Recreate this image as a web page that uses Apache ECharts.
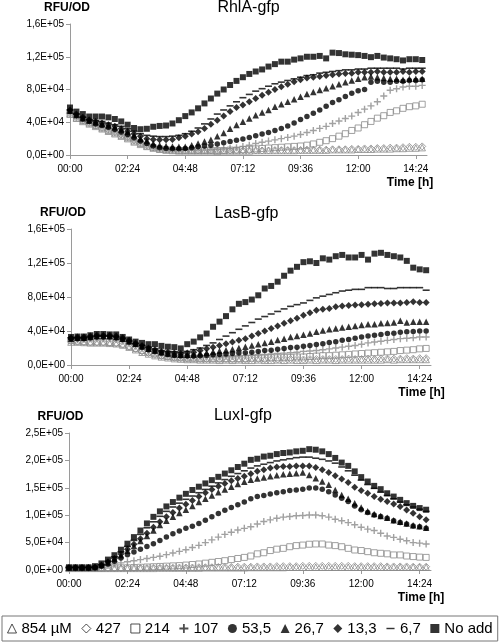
<!DOCTYPE html>
<html><head><meta charset="utf-8">
<script src="https://cdn.jsdelivr.net/npm/echarts@6/dist/echarts.min.js"></script>
<style>html,body{margin:0;padding:0;background:#fff}#c{width:500px;height:643px}</style>
</head><body><div id="c"></div>
<script>
// ---------------- DATA ----------------
const timesMin = [0,16,32,48,64,80,96,112,128,144,160,176,192,208,224,240,256,272,288,304,320,336,352,368,384,400,416,432,448,464,480,496,512,528,544,560,576,592,608,624,640,656,672,688,704,720,736,752,768,784,800,816,832,848,864,880];
const xTickMinutes = [0,144,288,432,576,720,864];
const seriesNames = ['854 µM','427','214','107','53,5','26,7','13,3','6,7','No add'];
const panelTitles = ['RhlA-gfp','LasB-gfp','LuxI-gfp'];
const yAxisTitle = 'RFU/OD';
const xAxisTitle = 'Time [h]';
// y ticks (values in thousands of RFU/OD)
const yTicksRhlA = [0,40,80,120,160];
const yTicksLasB = [0,40,80,120,160];
const yTicksLuxI = [0,50,100,150,200,250];

// RhlA-gfp (thousands)
const rhlA_854 = [50,45,41,38,35,32,29,26,23,20,16,13,10.5,8.5,7,6,5.5,5,5,5,5,5,5,4.5,5,5,5,5,5,5.5,5.5,5.5,5.5,5.5,5.5,5.5,6,6,6,6,6,6.5,6.5,6.5,6.5,7,7,7,7.5,7.5,7.5,8,8,8.5,8.5,9];
const rhlA_427 = [51,46,42,39,36,33,31,28,25,22,18,15,12,9.5,8,7,6.5,6,5.5,5.5,5.5,5.5,5.5,5.5,5.5,5.5,5.5,5.5,5.5,5.5,5.5,5.5,6,6,6,6,6,6.5,6.5,6.5,6.5,7,7,7,7.5,7.5,8,8,8.5,8.5,9,9,9.5,10,10,10.5];
const rhlA_214 = [50,45,42,39,36,33,30,27,24,21,17,14,11,9,7.5,6.5,6,5.5,5.5,5.5,5.5,5.5,5.5,5.5,5.5,6,6,6.5,7,7.5,8,8.5,9,9.5,10,10.5,11,12,13.5,15.5,17.5,20,23,26,30,33,37,41,45,48,52,54,57,59,60,62];
const rhlA_107 = [52,47,43,40,37,34,31,28,25,22,18,15,12,9.5,8,7,6.5,6,6,6,6,6,6.5,7,7.5,8,9,10.5,12,14,15.5,17,18.5,20,21.5,23,25,27.5,30,32.5,35,38.5,41.5,44.5,47.5,52,56,60,65,72,79,81,83,84,84,85];
const rhlA_535 = [53,48,44,41,38,36,34,31,28,25,21,17,14,11,9,8,7.5,7.5,8,9,10,11,12,13.5,15,16.5,18,19.5,21.5,23.5,25.5,27.5,30,32.5,35.5,39,43.5,47,51,55,59.5,64,67.5,71.5,75.5,78.5,80,89,90,89,89,90,90,91,91,92];
const rhlA_267 = [54,49,45,42,40,38,36,34,31,28,24,20,17,14,12,11,10.5,10,10,12,14,16.5,18.5,23,27,32,36.5,40.5,44.5,48.5,52,55,59,62,65,68,71,74.5,77,79.5,81.5,84,86.5,89,91,93,95,96,95,94,93,93,92,93,93,93];
const rhlA_133 = [55,50,46,43,41,39,37,35,32,29,26,23,20,19,18.5,18.5,19,21,23,25.5,28.5,32.5,37.5,42.5,47.5,53,58,61,65,69,73,76.5,80,83.5,86.5,89.5,92,94,95,96,97,98,99,99.5,100,101,101,101,102,101,101,101,102,101,102,102];
const rhlA_67  = [55,50,46,43,42,41,39,37,35,32,29,26,24,23,22.5,22.5,23,24,26,29,33,38,44,50,55,60,65,70,74,78,81,84,87,89,91,93,95,97,98,100,101,102,103,104,104,105,105,106,106,106,106,106,105,106,106,106];
const rhlA_no  = [58,53,50,47,47,47,46,44,41,37,33,31.5,32,34.5,35.5,36,38.5,42.5,47.5,52,57,63,69,75,80,85.5,90.5,95,99,102,104.5,108,111,114,114,116.5,118,120,120,121,118,125,124.5,123,122.5,122,121,119.5,121,119,118,117,115.5,117,117,116];

// LasB-gfp (thousands)
const lasB_854 = [27,27,26.5,26,26,26,25.5,25,23.5,21,18,15,13,11,9.5,8.5,7.5,7,6.5,6.5,6,6,6,5.5,6,5.5,6,5.5,5.5,6,5.5,5.5,6,5.5,6,5.5,5.5,6,5.5,6,6,5.5,6,6,6,6,6,6,6,6.5,6,6.5,6.5,6.5,6.5,6.5];
const lasB_427 = [28,27.5,27,26.5,26.5,26.5,26,25.5,24,21.5,19,16,14,12,10.5,9.5,8.5,8,7.5,7.5,7,7,7,6.5,7,6.5,7,6.5,7,7,6.5,7,6.5,7,7,7,6.5,7,7,7,7,7,7,7.5,7,7,7.5,7,7.5,7.5,7.5,7.5,8,7.5,8,8];
const lasB_214 = [29,28,27.5,27,27,27,26.5,26,24.5,22,19.5,17,15,13,11,10,9,8.5,8,8,7.5,7.5,7.5,7.5,7.5,7.5,7.5,7.5,8,8,8,8.5,8.5,9,9,9.5,9.5,10,10.5,11,11,11.5,12,12.5,13,13.5,14,14.5,15,15.5,16,17,17.5,18,19,19.5];
const lasB_107 = [30,30,30,31,31,31,31,30,28,25,22,19,16,14,12,11,10,9.5,9,9,9,9,9.5,9.5,10,10,10.5,11,11.5,12,12.5,13,13.5,14,14.5,15,16,16.5,17,18,19,20,21,22,23,24.5,26,27,28,29,30,31,31.5,32,33,33];
const lasB_535 = [31,31,31,32,33,33,33,32,30,27,24,21,18,16,14,12.5,11.5,11,10.5,10.5,11,11.5,12,12.5,13,13.5,14,14.5,15,16,17,17.5,18.5,19.5,20.5,21,22,23,24,25,26.5,27.5,29,30,31.5,33,34,35,36,37,37.5,38.5,39,39.5,40,40];
const lasB_267 = [31,32,32,33,34,34,34,33,31,28,25,22,19,17,15,13.5,12.5,12,12,12.5,13.5,14.5,15.5,16.5,17.5,18.5,20,21.5,23,24.5,26,27.5,29.5,31,33,34,35.5,37,39,40.5,42,43,44,45,46,47,48,48,49,49.5,50,52,50,51,51,51];
const lasB_133 = [32,33,33,34,35,35,35,34,32,29,26,23,20,18,16,15,14,13.5,14,15,17,19,21,23,25,27,29,31,34,37,40,43,46,49,52,55,58.5,61.5,64.5,65.5,66.5,68.5,69.5,70,70.5,71,71.5,72,72.5,73,73,73,73.5,74.5,73.5,73.5];
const lasB_67  = [32,32,32,33,34,34,34,33,31,28,25,23,21,19,17,16,15.5,15,16,18,20,23,26,30,34,38,42,46,50,54,57,60,63,66,69,71,73,76,79,81,83,85,87,88,89,89,91,91,91,90,90,91,91,91,91,88];
const lasB_no  = [33,33.5,33.5,35,36.5,36.5,36,36,33,30,27.5,26,24.5,24.5,22.5,21.5,21,19.5,24.5,27.5,32.5,37,45,51,57.5,65.5,72,74,77,82,90,93,98,105,111,115.5,121,122,120,125.5,124,128,129.5,126.5,126.5,129.5,124,131,132,129.5,128,126.5,122.5,114.5,112.5,111.5];

// LuxI-gfp (thousands)
const luxI_854 = [3,3,3,3,3,3,3,3,3,3,3,3,3,3,3.5,3.5,3.5,3.5,3.5,3.5,3.5,4,4,4,4,4,4,4,4.5,4.5,4.5,4.5,4.5,4.5,5,5,5,5,5,5,5,5,5,5,5,5,5,5,5,5,5,5,5,5,5,5];
const luxI_427 = [3,3,3,3,3,3,3,3,3,3.5,3.5,3.5,3.5,4,4,4,4,4.5,4.5,4.5,5,5,5,5.5,5.5,5.5,6,6,6,6.5,6.5,6.5,7,7,7,7,7.5,7.5,7.5,7.5,7.5,7.5,7.5,7.5,7,7,7,7,7,6.5,6.5,6.5,6.5,6,6,6];
const luxI_214 = [3,3,3,3,3,3,3.5,3.5,4,4,4.5,5,5.5,6,6.5,7,7.5,8,9,10,11,12.5,14,15.5,17,19,21,23,25.5,29.5,31.5,35.5,38,39.5,42.5,44.5,45.5,47,47.5,47.5,45.5,44.5,42.5,39.5,36.5,35.5,33.5,31.5,30.5,29.5,27.5,27.5,25.5,24.5,23.5,23];
const luxI_107 = [4,4,4,4,4,5,8,11,13,15,17,19,21,23,25,28,31,34,37,41,45,50,55,60,65,69,73,76,79,84,88.5,91.5,94.5,96.5,97.5,99,99.5,100.5,100.5,99,96.5,92.5,90,86.5,82.5,78,74.5,72,67,62,59.5,56,53.5,50,49,47.5];
const luxI_535 = [4,4,4,4,4,7,11,16,22,28,33,38,43,48,54,60,66,71,76,80,85,91,97,103,109,114,119,124,130,134,136,138.5,141,143,145,146,147.5,149.5,149.5,147.5,143,137,131,125,117,110,105,100.5,97.5,94.5,90,86.5,84,80.5,79,76];
const luxI_267 = [4,4,4,4,5,9,14,20,27,35,44,53,62,72,82,90,97,104,110,117,124,130,136,142,147,152,157,161,164.5,167,169,171,173,174.5,175.5,176.5,178,173.5,167.5,161.5,155.5,146,137,130,122,114,107,102,98.5,95.5,91,88,85,81.5,80,77];
const luxI_133 = [4,4,4,4,5,9,15,21,29,38,47,57,67,78,88,97,105,113,120,127,134,141,147,153,158,163,167,171,175.5,180,183,186,188,189,189,190,190,190,187,183,178,172,166,159.5,151,145,140,134,129,125,120.5,116,109.5,103.5,97,91.5];
const luxI_67  = [5,5,5,5,6,10,16,24,33,43,54,65,77,88,98,107,115,122,129,135,141,147,153,159,165,171,176,181,186,190,193,196,199,201,203,205,206,206,204,202,199,195,188,181,173,164,156,149,142,136,130,124,119,115,111,107];
const luxI_no  = [5,5,5,5,7,12,19,27,37,48,60,72,85,97,107,116,124,132,139,146,152,158,164,170,176,182,188,194,201,203,207,208.5,211.5,213.5,214.5,216.5,217.5,220.5,219.5,216.5,211.5,204.5,196,190,180,169.5,161.5,153.5,147.5,140,134,128,122,117,113,110];

const panelData = [
  [rhlA_854, rhlA_427, rhlA_214, rhlA_107, rhlA_535, rhlA_267, rhlA_133, rhlA_67, rhlA_no],
  [lasB_854, lasB_427, lasB_214, lasB_107, lasB_535, lasB_267, lasB_133, lasB_67, lasB_no],
  [luxI_854, luxI_427, luxI_214, luxI_107, luxI_535, luxI_267, luxI_133, luxI_67, luxI_no]
];
const panelYTicks = [yTicksRhlA, yTicksLasB, yTicksLuxI];

// ---------------- STYLE ----------------
const FONT = "'Liberation Sans', Arial, sans-serif";
const GRAY = '#8a8a8a';
const AXIS = '#9a9a9a';
const PLUS = 'path://M4,0H6V4H10V6H6V10H4V6H0V4H4Z';
const DASH_ICON = 'path://M0,0M10,10M0.5,4.2H9.5V5.8H0.5Z';
const symStyles = [
  {symbol:'triangle', size:6.5, item:{color:'rgba(0,0,0,0)', borderColor:GRAY, borderWidth:1}},
  {symbol:'diamond', size:7, item:{color:'rgba(0,0,0,0)', borderColor:GRAY, borderWidth:1}},
  {symbol:'rect', size:6, item:{color:'rgba(0,0,0,0)', borderColor:GRAY, borderWidth:1}},
  {symbol:PLUS, size:7, item:{color:GRAY}},
  {symbol:'circle', size:5.5, item:{color:'#000'}},
  {symbol:'triangle', size:6.5, item:{color:'#000'}},
  {symbol:'diamond', size:7, item:{color:'#000'}},
  {symbol:'rect', size:[7,1.6], item:{color:'#000'}},
  {symbol:'rect', size:6, item:{color:'#000'}}
];
const legendIcons = [
  {icon:'triangle', itemStyle:{color:'rgba(0,0,0,0)', borderColor:'#222', borderWidth:1}},
  {icon:'diamond', itemStyle:{color:'rgba(0,0,0,0)', borderColor:'#222', borderWidth:1}},
  {icon:'rect', itemStyle:{color:'rgba(0,0,0,0)', borderColor:'#222', borderWidth:1}},
  {icon:PLUS, itemStyle:{color:'#222', borderWidth:0}},
  {icon:'circle', itemStyle:{color:'#000', borderWidth:0}},
  {icon:'triangle', itemStyle:{color:'#000', borderWidth:0}},
  {icon:'diamond', itemStyle:{color:'#000', borderWidth:0}},
  {icon:DASH_ICON, itemStyle:{color:'#000', borderWidth:0}},
  {icon:'rect', itemStyle:{color:'#000', borderWidth:0}}
];

const grids = [
  {left:70, top:24, width:357, height:131},
  {left:71, top:229, width:360, height:136},
  {left:69, top:433, width:362, height:137}
];
const titlePos = [{x:248.5, y:7.5},{x:246.5, y:214},{x:243, y:416}];
const yNamePad = [6, 16, 17];
const xNameGap = [-17, -9.5, -10];

function sci(v){
  const s = (v*1000).toExponential(1);
  const parts = s.split('e');
  const e = parseInt(parts[1],10);
  const ex = Math.abs(e);
  return parts[0].replace('.',',') + 'E' + (e<0?'-':'+') + (ex<10?'0':'') + ex;
}
function hhmm(m){
  const h = Math.floor(m/60), mm = Math.round(m%60);
  return (h<10?'0':'')+h+':'+(mm<10?'0':'')+mm;
}

const xAxes = [], yAxes = [], series = [], titles = [];
for (let p=0; p<3; p++){
  const yt = panelYTicks[p];
  titles.push({text: panelTitles[p], left: titlePos[p].x, top: titlePos[p].y, padding:0,
    textAlign:'center', textVerticalAlign:'middle',
    textStyle:{fontFamily:FONT, fontSize:16, fontWeight:'normal', color:'#000'}});
  xAxes.push({type:'value', gridIndex:p, min:0, max:892,
    axisLine:{show:true, lineStyle:{color:AXIS, width:1}},
    axisTick:{show:true, inside:false, length:4, customValues:xTickMinutes, lineStyle:{color:AXIS}},
    axisLabel:{show:true, customValues:xTickMinutes, formatter:hhmm, margin:9, fontFamily:FONT, fontSize:10, color:'#000'},
    splitLine:{show:false},
    name:xAxisTitle, nameLocation:'end', nameGap:xNameGap[p],
    nameTextStyle:{fontFamily:FONT, fontSize:12, fontWeight:'bold', color:'#000', align:'center', verticalAlign:'top', padding:[22,0,0,0]}
  });
  yAxes.push({type:'value', gridIndex:p, min:yt[0], max:yt[yt.length-1], interval:yt[1]-yt[0],
    axisLine:{show:true, lineStyle:{color:AXIS, width:1}},
    axisTick:{show:true, inside:false, length:4, lineStyle:{color:AXIS}},
    axisLabel:{show:true, formatter:sci, margin:6, fontFamily:FONT, fontSize:10, color:'#000'},
    splitLine:{show:false},
    name:yAxisTitle, nameLocation:'end', nameGap:10,
    nameTextStyle:{fontFamily:FONT, fontSize:12, fontWeight:'bold', color:'#000', align:'center', padding:[0,yNamePad[p],0,0]}
  });
  for (let k=0; k<seriesNames.length; k++){
    const vals = panelData[p][k];
    const st = symStyles[k];
    series.push({type:'scatter', name:seriesNames[k], xAxisIndex:p, yAxisIndex:p,
      data: timesMin.map((t,i)=>[t, vals[i]]),
      symbol: st.symbol, symbolSize: st.size, itemStyle: st.item, silent:true,
      emphasis:{disabled:true}});
  }
}

const chart = echarts.init(document.getElementById('c'), null, {renderer:'canvas'});
chart.setOption({
  animation:false,
  backgroundColor:'#fff',
  textStyle:{fontFamily:FONT},
  title: titles,
  grid: grids.map(g=>Object.assign({containLabel:false, outerBoundsMode:'none'}, g)),
  xAxis: xAxes,
  yAxis: yAxes,
  legend:{
    show:true, left:2, top:616, orient:'horizontal', selectedMode:false,
    padding:[5,5], itemGap:9.5, itemWidth:9, itemHeight:9,
    borderColor:'#777', borderWidth:1, backgroundColor:'#fff',
    textStyle:{fontFamily:FONT, fontSize:15, color:'#000'},
    data: seriesNames.map((n,k)=>Object.assign({name:n}, legendIcons[k]))
  },
  series: series
});
</script>
</body></html>
